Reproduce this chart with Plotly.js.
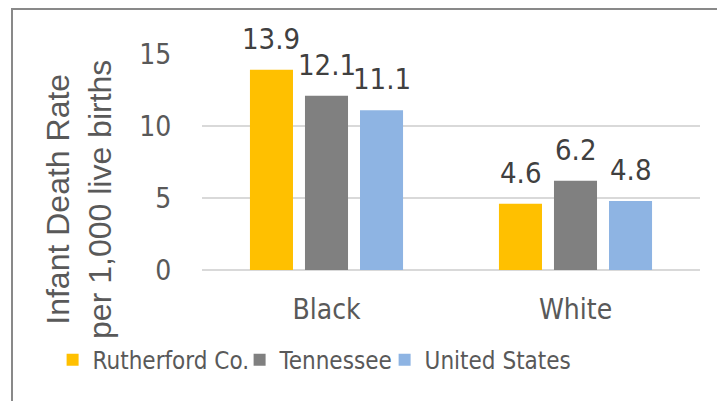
<!DOCTYPE html>
<html><head><meta charset="utf-8">
<script src="https://cdn.plot.ly/plotly-3.0.1.min.js"></script>
<style>html,body{margin:0;padding:0;background:#fff;}#c{width:717px;height:401px;}</style>
</head><body><div id="c"></div>
<script>
const categories = ["Black", "White"];
const seriesNames = ["Rutherford Co.", "Tennessee", "United States"];
const rutherford = [13.9, 4.6];
const tennessee = [12.1, 6.2];
const unitedStates = [11.1, 4.8];
const yTicks = [0, 5, 10, 15];
const yTitle = "Infant Death Rate<br>per 1,000 live births";
const colors = ["#FFC000", "#808080", "#8EB4E3"];

const narrow = "'DejaVu Sans Condensed', 'Liberation Sans Narrow', Arial, sans-serif";
const seriesVals = [rutherford, tennessee, unitedStates];
const legendIds = ["legend", "legend2", "legend3"];
const legendX = [-0.3, 0.0755, 0.3667];
const bargap = 0.337;
const traces = seriesVals.map((v, i) => ({
  type: "bar", x: categories, y: v, name: seriesNames[i],
  marker: {color: colors[i]}, legend: legendIds[i],
  hoverinfo: "none"
}));

// value labels placed through the axes at each bar's category slot
const slot = (1 - bargap) / seriesVals.length;
const annotations = [];
seriesVals.forEach((v, i) => {
  v.forEach((val, j) => {
    annotations.push({
      xref: "x", yref: "y", x: j + (i - (seriesVals.length - 1) / 2) * slot, y: val,
      text: val.toFixed(1), showarrow: false, xanchor: "center", yanchor: "bottom", yshift: 12,
      font: {family: narrow, size: 29, color: "#404040"}
    });
  });
});
// y axis title (sits lower than centre in the reference)
annotations.push({
  xref: "paper", yref: "paper", x: -0.247, y: 0.329, text: yTitle, textangle: -90,
  showarrow: false, xanchor: "center", yanchor: "middle",
  font: {family: "'Liberation Sans', Arial, sans-serif", size: 32, color: "#595959"}
});

const layout = {
  width: 717, height: 401,
  margin: {l: 202, r: 17, t: 54, b: 131},
  paper_bgcolor: "#fff", plot_bgcolor: "#fff",
  barmode: "group", bargap: bargap, bargroupgap: 0.218,
  showlegend: true,
  annotations: annotations,
  xaxis: {type: "category", showgrid: false, zeroline: false, showline: false,
    ticks: "outside", ticklen: 14, tickcolor: "rgba(0,0,0,0)",
    tickfont: {family: narrow, size: 28, color: "#595959"}},
  yaxis: {range: [0, 15], tickvals: yTicks, showgrid: true, gridcolor: "#D9D9D9", gridwidth: 1.5,
    zeroline: true, zerolinecolor: "#D9D9D9", zerolinewidth: 1.5, showline: false,
    ticks: "outside", ticklen: 24, tickcolor: "rgba(0,0,0,0)",
    tickfont: {family: narrow, size: 28, color: "#595959"}},
  shapes: [{type: "rect", xref: "paper", yref: "paper",
    x0: (12 - 202) / 498, x1: (730 - 202) / 498, y0: (270 - 420) / 216, y1: (270 - 9) / 216,
    line: {color: "#898989", width: 2}, fillcolor: "rgba(0,0,0,0)", layer: "below"}]
};
legendIds.forEach((id, i) => {
  layout[id] = {orientation: "h", x: legendX[i], xanchor: "left", y: -0.417, yanchor: "middle",
    bgcolor: "rgba(0,0,0,0)", font: {family: narrow, size: 24, color: "#595959"}};
});
Plotly.newPlot("c", traces, layout, {staticPlot: true, displayModeBar: false});
</script></body></html>
